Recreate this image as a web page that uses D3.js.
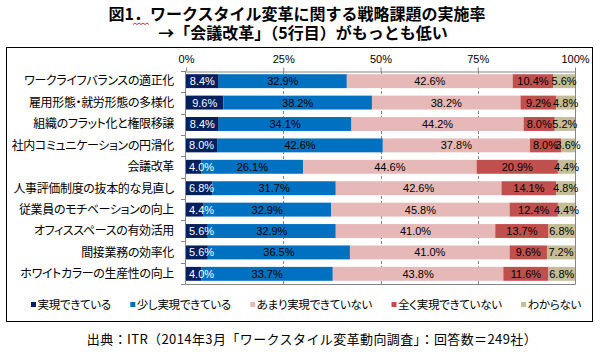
<!DOCTYPE html>
<html><head><meta charset="utf-8">
<script src="https://cdn.jsdelivr.net/npm/d3@7"></script>
<style>
html,body{margin:0;padding:0;background:#fff;}
svg{display:block;}
.jp{font-family:"Noto Sans CJK JP","Noto Sans CJK SC",sans-serif;font-feature-settings:"palt";}
.num{font-family:"Liberation Sans",Arial,sans-serif;}
</style>
</head><body>
<svg id="c" width="600" height="355"></svg>
<script>
const titleLines = ["図1．ワークスタイル変革に関する戦略課題の実施率", "→「会議改革」（5行目）がもっとも低い"];
const categories = ["ワークライフバランスの適正化","雇用形態・就労形態の多様化","組織のフラット化と権限移譲","社内コミュニケーションの円滑化","会議改革","人事評価制度の抜本的な見直し","従業員のモチベーションの向上","オフィススペースの有効活用","間接業務の効率化","ホワイトカラーの生産性の向上"];
const seriesNames = ["実現できている","少し実現できている","あまり実現できていない","全く実現できていない","わからない"];
const s1 = [8.4,9.6,8.4,8.0,4.0,6.8,4.4,5.6,5.6,4.0];
const s2 = [32.9,38.2,34.1,42.6,26.1,31.7,32.9,32.9,36.5,33.7];
const s3 = [42.6,38.2,44.2,37.8,44.6,42.6,45.8,41.0,41.0,43.8];
const s4 = [10.4,9.2,8.0,8.0,20.9,14.1,12.4,13.7,9.6,11.6];
const s5 = [5.6,4.8,5.2,3.6,4.4,4.8,4.4,6.8,7.2,6.8];
const tickValues = [0,0.25,0.5,0.75,1];
const tickLabels = ["0%","25%","50%","75%","100%"];
const sourceText = "出典：ITR（2014年3月「ワークスタイル変革動向調査」：回答数＝249社）";

const colors = ["#002060","#0070C0","#E6B9B8","#C0504D","#C4BD97"];
const labelColors = ["#ffffff","#000000","#000000","#000000","#000000"];
const series = [s1,s2,s3,s4,s5];

const svg = d3.select("#c");
svg.append("rect").attr("x",0).attr("y",0).attr("width",600).attr("height",355).attr("fill","#fff");

// title
svg.append("text").attr("class","jp").attr("x",297).attr("y",14.5).attr("dy","0.36em")
  .attr("text-anchor","middle").attr("font-size",16).attr("font-weight","bold").attr("fill","#000")
  .style("font-feature-settings","normal").text(titleLines[0]);
svg.append("text").attr("class","jp").attr("x",303).attr("y",33.5).attr("dy","0.36em")
  .attr("text-anchor","middle").attr("font-size",16).attr("font-weight","bold").attr("fill","#000")
  .style("font-feature-settings","normal").text(titleLines[1]);
// spellcheck wavy underline under "1."
(function(){
  const p = d3.path(); const x0 = 133, x1 = 149, y = 24.5;
  p.moveTo(x0,y);
  let up = true;
  for (let x = x0+2; x <= x1; x += 2) { p.lineTo(x, up ? y-1.5 : y); up = !up; }
  svg.append("path").attr("d",p.toString()).attr("fill","none").attr("stroke","#e03030").attr("stroke-width",1);
})();

// outer box
svg.append("rect").attr("x",6.5).attr("y",47.5).attr("width",586).attr("height",274)
  .attr("fill","none").attr("stroke","#000").attr("stroke-width",1);

const x = d3.scaleLinear().domain([0,1]).range([186,575]);
const y = d3.scaleBand().domain(categories).range([71,284]).paddingInner(0.35).paddingOuter(0.15);

const rows = categories.map((c,i)=>{
  const vals = series.map(s=>s[i]);
  const tot = d3.sum(vals);
  let acc = 0;
  return vals.map((v,j)=>{ const seg = {cat:c, j, v, x0:acc/tot, x1:(acc+v)/tot}; acc += v; return seg; });
});
const segs = rows.flat();

// gridlines
const g = svg.append("g");
g.selectAll("line.grid").data(tickValues.slice(1,4)).join("line")
  .attr("x1",d=>Math.round(x(d))+0.5).attr("x2",d=>Math.round(x(d))+0.5)
  .attr("y1",71).attr("y2",284).attr("stroke","#868686").attr("stroke-dasharray","3,2");

// bars
g.selectAll("rect.bar").data(segs).join("rect")
  .attr("x",d=>x(d.x0)).attr("width",d=>x(d.x1)-x(d.x0))
  .attr("y",d=>y(d.cat)).attr("height",y.bandwidth())
  .attr("fill",d=>colors[d.j]);

// plot frame: right & bottom
svg.append("line").attr("x1",575.5).attr("x2",575.5).attr("y1",71).attr("y2",284.5).attr("stroke","#868686");
svg.append("line").attr("x1",186).attr("x2",575.5).attr("y1",284.5).attr("y2",284.5).attr("stroke","#868686");

// top axis
const ax = svg.append("g").attr("transform","translate(0,71.5)")
  .call(d3.axisTop(x).tickValues(tickValues).tickFormat((d,i)=>tickLabels[i]).tickSize(4).tickSizeOuter(0));
ax.select(".domain").attr("stroke","#868686");
ax.selectAll(".tick line").attr("stroke","#868686");
ax.selectAll(".tick text").attr("class","num").attr("font-size",11).attr("fill","#000").attr("dy","0").attr("y",-9);

// left axis line & ticks
svg.append("line").attr("x1",185.5).attr("x2",185.5).attr("y1",71).attr("y2",284.5).attr("stroke","#868686");
const [r0,r1] = y.range();
const bounds = d3.range(categories.length+1).map(i=> r0 + i*(r1-r0)/categories.length);
svg.selectAll("line.ytick").data(bounds).join("line")
  .attr("x1",181).attr("x2",185.5).attr("y1",d=>Math.round(d)+0.5).attr("y2",d=>Math.round(d)+0.5).attr("stroke","#868686");

// category labels
svg.selectAll("text.cat").data(categories).join("text").attr("class","jp")
  .attr("x",174).attr("y",d=>y(d)+y.bandwidth()/2).attr("dy","0.36em")
  .attr("text-anchor","end").attr("font-size",12).attr("letter-spacing","-0.35px").attr("fill","#000").text(d=>d);

// value labels (kept inside plot area on the left, as the original does)
svg.selectAll("text.val").data(segs).join("text").attr("class","num")
  .attr("y",d=>y(d.cat)+y.bandwidth()/2).attr("dy","0.36em")
  .attr("text-anchor","middle").attr("font-size",11).attr("fill",d=>labelColors[d.j])
  .text(d=>d.v.toFixed(1)+"%")
  .each(function(d){
    const w = this.getComputedTextLength();
    let cx = (x(d.x0)+x(d.x1))/2;
    cx = Math.max(cx, x(0) + 3 + w/2);
    d3.select(this).attr("x", cx);
  });

// legend: items spread between left start and right end
const leg = svg.append("g");
const legStart = 31, legEnd = 581, markerGap = 6.5;
const items = seriesNames.map((n,i)=>{
  const t = leg.append("text").attr("class","jp").attr("y",304.5).attr("dy","0.36em")
    .attr("font-size",11.5).attr("letter-spacing","-0.3px").attr("fill","#000").text(n);
  return {t, w: markerGap + t.node().getComputedTextLength(), i};
});
const gap = (legEnd - legStart - d3.sum(items,d=>d.w)) / (items.length-1);
let lx = legStart;
items.forEach(it=>{
  leg.append("rect").attr("x",lx).attr("y",302).attr("width",5).attr("height",5).attr("fill",colors[it.i]);
  it.t.attr("x", lx + markerGap);
  lx += it.w + gap;
});

// source
svg.append("text").attr("class","jp").attr("x",312).attr("y",339).attr("dy","0.36em")
  .attr("text-anchor","middle").attr("font-size",13).attr("letter-spacing","0.4px").attr("fill","#000")
  .style("font-feature-settings","normal").text(sourceText);
</script>
</body></html>
